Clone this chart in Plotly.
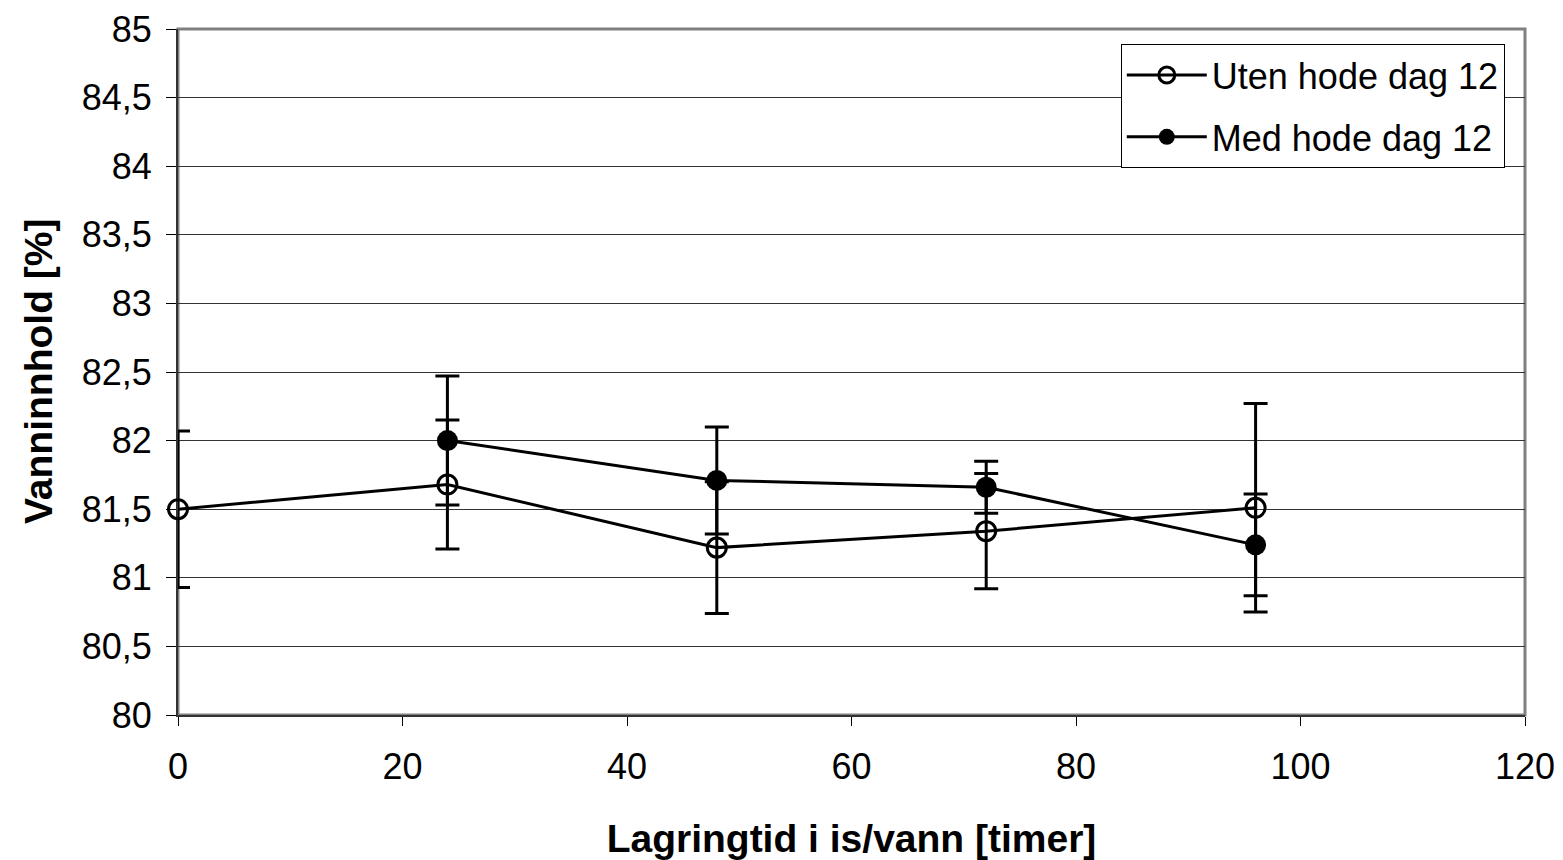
import plotly.graph_objects as go

# Data
hours = [0, 24, 48, 72, 96]
uten_values = [81.50, 81.68, 81.22, 81.34, 81.51]
uten_err = [0.57, 0.47, 0.48, 0.42, 0.76]
med_hours = [24, 48, 72, 96]
med_values = [82.00, 81.71, 81.66, 81.24]
med_err = [0.47, 0.39, 0.19, 0.37]

x_ticks = [0, 20, 40, 60, 80, 100, 120]
y_ticks = [80, 80.5, 81, 81.5, 82, 82.5, 83, 83.5, 84, 84.5, 85]
y_ticktext = ["80", "80,5", "81", "81,5", "82", "82,5", "83", "83,5", "84", "84,5", "85"]

FONT = "Liberation Sans, Arial, sans-serif"

fig = go.Figure()
fig.add_trace(go.Scatter(
    x=hours, y=uten_values, name="Uten hode dag 12", legendgroup="a",
    mode="lines+markers", cliponaxis=False,
    line=dict(color="black", width=3),
    marker=dict(symbol="circle-open", size=19, color="black", line=dict(width=3, color="black")),
    error_y=dict(type="data", array=uten_err, visible=True, color="black", thickness=3, width=12),
))
fig.add_trace(go.Scatter(
    x=med_hours, y=med_values, name="Med hode dag 12", legendgroup="b",
    mode="lines+markers", cliponaxis=False,
    line=dict(color="black", width=3),
    marker=dict(symbol="circle", size=21, color="black", line=dict(width=0)),
    error_y=dict(type="data", array=med_err, visible=True, color="black", thickness=3, width=12),
))

fig.update_layout(
    width=1555, height=852,
    margin=dict(l=170, r=38, t=21, b=145, autoexpand=False),
    paper_bgcolor="white", plot_bgcolor="white",
    font=dict(family=FONT, size=36, color="black"),
    separators=", ",
    showlegend=True,
    legend=dict(
        x=0.985, y=0.978, xanchor="right", yanchor="top",
        bgcolor="white", bordercolor="black", borderwidth=1,
        font=dict(family=FONT, size=36, color="black"),
        itemwidth=80, tracegroupgap=12,
    ),
    shapes=[dict(type="rect", xref="paper", yref="paper", x0=0, x1=1, y0=0, y1=1,
                 line=dict(color="#808080", width=3), layer="below")],
    annotations=[dict(text="<b>Vanninnhold [%]</b>", xref="paper", yref="paper", x=0, y=0.5,
                      xanchor="center", yanchor="middle", xshift=-140, textangle=-90, showarrow=False,
                      font=dict(family=FONT, size=39, color="black"))],
)
fig.update_xaxes(
    range=[0, 120], tickvals=x_ticks, ticks="outside", ticklen=9, tickwidth=1, tickcolor="black",
    showgrid=False, zeroline=False, showline=True, linecolor="#333333", linewidth=2,
    tickfont=dict(family=FONT, size=36), automargin=False, ticklabeloverflow="allow",
    ticklabelstandoff=10, layer="below traces",
    title=dict(text="<b>Lagringtid i is/vann [timer]</b>", font=dict(family=FONT, size=39), standoff=46),
)
fig.update_yaxes(
    range=[80, 85], tickvals=y_ticks, ticktext=y_ticktext, ticks="outside", ticklen=10, tickwidth=1, tickcolor="black",
    showgrid=True, gridcolor="#333333", gridwidth=1, zeroline=False,
    showline=True, linecolor="#333333", linewidth=2,
    tickfont=dict(family=FONT, size=36), automargin=False, ticklabeloverflow="allow",
    ticklabelstandoff=7, layer="below traces",
)

fig.write_html("out.html")
